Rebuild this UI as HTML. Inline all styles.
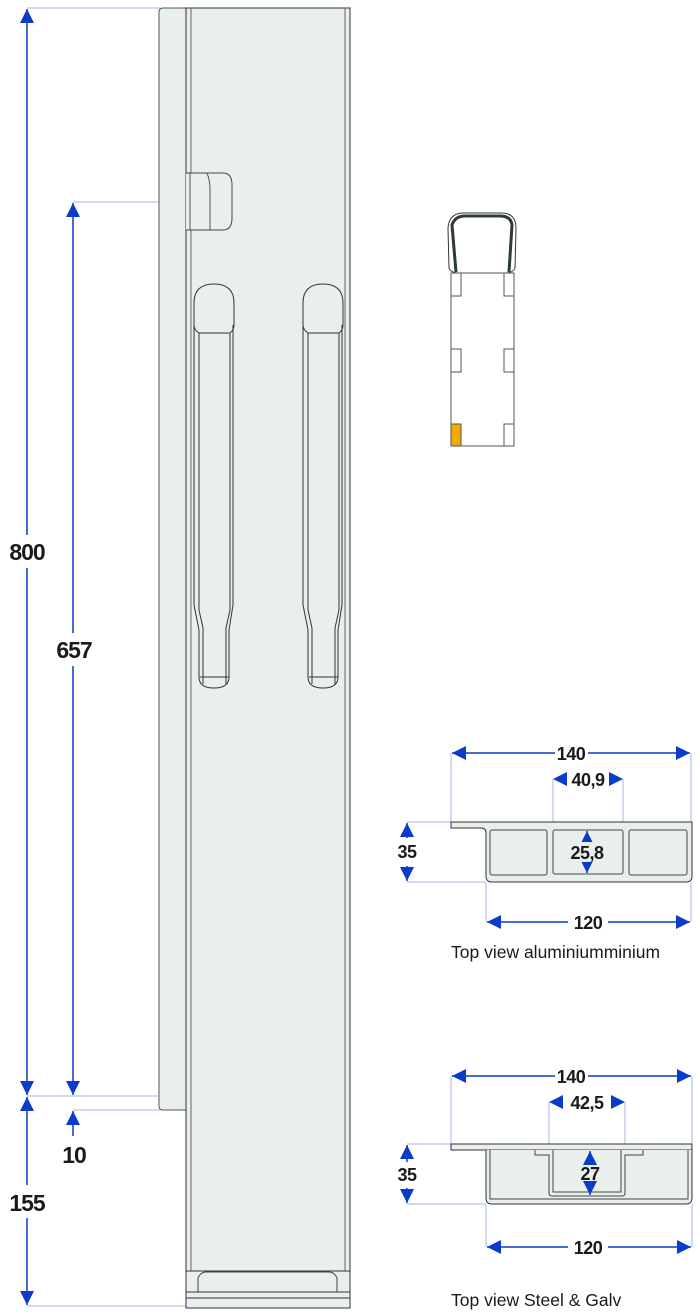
<!DOCTYPE html>
<html><head><meta charset="utf-8"><style>
html,body{margin:0;padding:0;background:#fff;width:700px;height:1314px;overflow:hidden}
svg{display:block}
text{font-family:"Liberation Sans",sans-serif;fill:#1a1a1a}
.b{font-weight:bold}
</style></head><body>
<svg width="700" height="1314" viewBox="0 0 700 1314" xmlns="http://www.w3.org/2000/svg">
<defs>
<marker id="a" viewBox="0 0 10 10" refX="10" refY="5" markerWidth="11" markerHeight="11" markerUnits="userSpaceOnUse" orient="auto-start-reverse">
<path d="M0,0 L10,5 L0,10 z" fill="#0a3ccc"/></marker>
<marker id="A" viewBox="0 0 10 10" refX="10" refY="5" markerWidth="14" markerHeight="14" markerUnits="userSpaceOnUse" orient="auto-start-reverse">
<path d="M0,0 L10,5 L0,10 z" fill="#0a3ccc"/></marker>
</defs>
<g stroke="#b4c2f0" stroke-width="1.2" fill="none">
<line x1="27" y1="8" x2="160" y2="8"/>
<line x1="73" y1="202" x2="160" y2="202"/>
<line x1="27" y1="1096" x2="160" y2="1096"/>
<line x1="73" y1="1110" x2="160" y2="1110"/>
<line x1="27" y1="1306" x2="186" y2="1306"/>
<line x1="451" y1="753" x2="451" y2="822"/><line x1="691" y1="753" x2="691" y2="822"/>
<line x1="553" y1="779" x2="553" y2="822"/><line x1="623" y1="779" x2="623" y2="822"/>
<line x1="407" y1="822" x2="451" y2="822"/><line x1="407" y1="882" x2="486" y2="882"/>
<line x1="486" y1="882" x2="486" y2="922"/><line x1="691" y1="882" x2="691" y2="922"/>
<line x1="451" y1="1076" x2="451" y2="1144"/><line x1="692" y1="1076" x2="692" y2="1144"/>
<line x1="549" y1="1102" x2="549" y2="1144"/><line x1="625" y1="1102" x2="625" y2="1144"/>
<line x1="407" y1="1144" x2="451" y2="1144"/><line x1="407" y1="1204" x2="486" y2="1204"/>
<line x1="486" y1="1204" x2="486" y2="1247"/><line x1="692" y1="1204" x2="692" y2="1247"/>
</g>
<path d="M186,8 L163,8 Q159,8 159,12 L159,1106 Q159,1110 163,1110 L186,1110" fill="#e8efed" stroke="#555" stroke-width="1"/>
<rect x="186" y="8" width="164" height="1300" fill="#e8efed" stroke="#333" stroke-width="1"/>
<line x1="191" y1="8" x2="191" y2="1271" stroke="#666"/>
<line x1="345" y1="8" x2="345" y2="1271" stroke="#666"/>
<line x1="186" y1="1271" x2="350" y2="1271" stroke="#333"/>
<path d="M198,1292 L198,1278 Q200,1273 205,1272 L330,1272 Q335,1273 337,1278 L337,1292" fill="none" stroke="#444"/>
<line x1="186" y1="1292" x2="350" y2="1292" stroke="#333"/>
<line x1="186" y1="1298" x2="350" y2="1298" stroke="#333"/>
<path d="M186,173 L223,173 Q232,173 232,185 L232,218 Q232,230 223,230 L186,230" fill="#e8efed" stroke="#444"/>
<line x1="190" y1="173" x2="190" y2="230" stroke="#555"/>
<path d="M207,173 Q210,180 210,190 L210,230" fill="none" stroke="#555"/>
<g fill="none" stroke="#333" stroke-width="1">
<path d="M194,325 L194,303 Q194,284 214,284 Q234,284 234,303 L234,325 Q234,330 230,333 L199,333 Q194,330 194,325 Z"/>
<path d="M194,325 L194,605 L199,630 L199,677 Q199,688 214,688 Q229,688 229,677 L229,630 L233,605 L233,325"/>
<path d="M199,333 L199,610 L203,628 M230,333 L230,610 L226,628"/>
<line x1="203" y1="628" x2="203" y2="684"/><line x1="226" y1="628" x2="226" y2="684"/>
<line x1="200" y1="677" x2="229" y2="677"/>
<path d="M303,325 L303,303 Q303,284 323,284 Q343,284 343,303 L343,325 Q343,330 339,333 L308,333 Q303,330 303,325 Z"/>
<path d="M303,325 L303,605 L308,630 L308,677 Q308,688 323,688 Q338,688 338,677 L338,630 L342,605 L342,325"/>
<path d="M308,333 L308,610 L312,628 M339,333 L339,610 L335,628"/>
<line x1="312" y1="628" x2="312" y2="684"/><line x1="335" y1="628" x2="335" y2="684"/>
<line x1="309" y1="677" x2="338" y2="677"/>
</g>
<g stroke="#0a3ccc" stroke-width="1.5" fill="none">
<line x1="27" y1="9" x2="27" y2="535" marker-start="url(#A)"/>
<line x1="27" y1="568" x2="27" y2="1095" marker-end="url(#A)"/>
<line x1="73" y1="203" x2="73" y2="633" marker-start="url(#A)"/>
<line x1="73" y1="666" x2="73" y2="1095" marker-end="url(#A)"/>
<line x1="73" y1="1136" x2="73" y2="1111" marker-end="url(#A)"/>
<line x1="27" y1="1097" x2="27" y2="1185" marker-start="url(#A)"/>
<line x1="27" y1="1218" x2="27" y2="1305" marker-end="url(#A)"/>
</g>
<g class="b" font-size="23" text-anchor="middle" letter-spacing="-1">
<text x="27" y="560">800</text>
<text x="74" y="658">657</text>
<text x="74" y="1163">10</text>
<text x="27" y="1211">155</text>
</g>
<path d="M449,268 L448,228 Q449,214 462,213 L503,213 Q516,214 516,228 L515,268 Q513,273 505,273 L459,273 Q451,273 449,268 Z" fill="#fff" stroke="#333" stroke-width="1"/>
<path d="M456,272 L452,225 Q455,216 465,216 L500,216 Q511,216 512,225 L509,272" fill="none" stroke="#2d3a3a" stroke-width="3"/>
<rect x="451" y="273" width="63" height="173" fill="#fff" stroke="#555"/>
<g fill="#fff" stroke="#555">
<rect x="451" y="273" width="10" height="23"/><rect x="504" y="273" width="10" height="23"/>
<rect x="451" y="349" width="10" height="23"/><rect x="504" y="349" width="10" height="23"/>
<rect x="504" y="424" width="10" height="22"/>
</g>
<rect x="451" y="424" width="10" height="22" fill="#f2aa00" stroke="#555"/>
<path d="M451,822 L692,822 L692,876 Q692,882 686,882 L492,882 Q486,882 486,876 L486,833 Q486,828 481,828 L451,828 Z" fill="#e8efed" stroke="#333"/>
<g fill="none" stroke="#444"><rect x="490" y="830" width="57" height="45" rx="2"/><rect x="553" y="830" width="70" height="44" rx="2"/><rect x="629" y="830" width="58" height="45" rx="2"/></g>
<g stroke="#0a3ccc" stroke-width="1.5" fill="none">
<line x1="452" y1="753" x2="555" y2="753" marker-start="url(#A)"/>
<line x1="588" y1="753" x2="690" y2="753" marker-end="url(#A)"/>
<line x1="407" y1="823" x2="407" y2="838" marker-start="url(#A)"/>
<line x1="407" y1="866" x2="407" y2="881" marker-end="url(#A)"/>
<line x1="487" y1="922" x2="568" y2="922" marker-start="url(#A)"/>
<line x1="608" y1="922" x2="690" y2="922" marker-end="url(#A)"/>
<line x1="587" y1="831" x2="587" y2="842" marker-start="url(#a)"/>
<line x1="587" y1="862" x2="587" y2="873" marker-end="url(#a)"/>
</g>
<polygon points="553,779 567,772 567,786" fill="#0a3ccc"/><polygon points="623,779 609,772 609,786" fill="#0a3ccc"/>
<g class="b" font-size="18" text-anchor="middle" letter-spacing="-0.5">
<text x="571" y="760">140</text>
<text x="588" y="786">40,9</text>
<text x="407" y="858">35</text>
<text x="587" y="859">25,8</text>
<text x="588" y="929">120</text>
</g>
<text x="451" y="958" font-size="17.5">Top view aluminiumminium</text>
<rect x="451" y="1144" width="241" height="6" fill="#e8efed" stroke="#333"/>
<path d="M486,1150 L486,1198 Q486,1204 492,1204 L686,1204 Q692,1204 692,1198 L692,1150" fill="#e8efed" stroke="#333"/>
<g fill="none" stroke="#444">
<path d="M490,1150 L490,1199 L688,1199 L688,1150"/>
<path d="M535,1150 L535,1155 L549,1155 L549,1193 Q549,1196 552,1196 L622,1196 Q625,1196 625,1193 L625,1155 L643,1155 L643,1150"/>
<path d="M553,1150 L553,1192 L621,1192 L621,1150"/>
</g>
<g stroke="#0a3ccc" stroke-width="1.5" fill="none">
<line x1="452" y1="1076" x2="555" y2="1076" marker-start="url(#A)"/>
<line x1="588" y1="1076" x2="691" y2="1076" marker-end="url(#A)"/>
<line x1="407" y1="1145" x2="407" y2="1162" marker-start="url(#A)"/>
<line x1="407" y1="1188" x2="407" y2="1203" marker-end="url(#A)"/>
<line x1="487" y1="1247" x2="568" y2="1247" marker-start="url(#A)"/>
<line x1="608" y1="1247" x2="691" y2="1247" marker-end="url(#A)"/>
<line x1="590" y1="1151" x2="590" y2="1165" marker-start="url(#A)"/>
<line x1="590" y1="1182" x2="590" y2="1195" marker-end="url(#A)"/>
</g>
<polygon points="549,1102 563,1095 563,1109" fill="#0a3ccc"/><polygon points="625,1102 611,1095 611,1109" fill="#0a3ccc"/>
<g class="b" font-size="18" text-anchor="middle" letter-spacing="-0.5">
<text x="571" y="1083">140</text>
<text x="587" y="1109">42,5</text>
<text x="407" y="1181">35</text>
<text x="590" y="1180">27</text>
<text x="588" y="1254">120</text>
</g>
<text x="451" y="1306" font-size="17.5">Top view Steel &amp; Galv</text>
</svg>
</body></html>
